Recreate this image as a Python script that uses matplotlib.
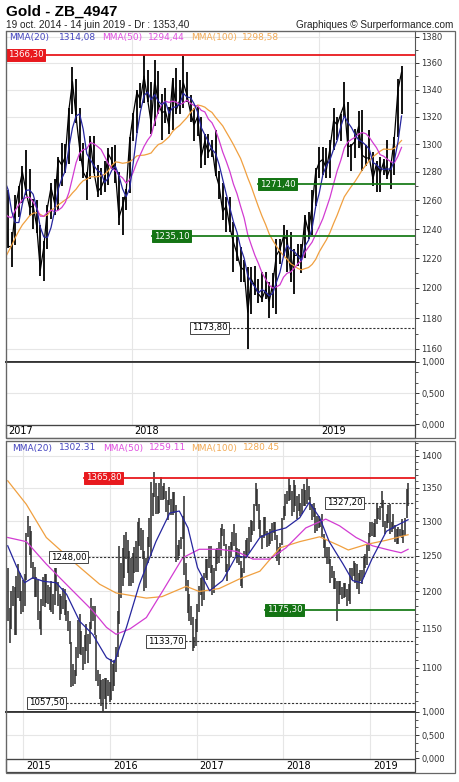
import numpy as np
import pandas as pd
import matplotlib
matplotlib.use("Agg")
import matplotlib.pyplot as plt
from matplotlib.ticker import FixedLocator, FuncFormatter, NullFormatter
from matplotlib.patches import Rectangle
from matplotlib.transforms import blended_transform_factory

plt.rcParams['font.family'] = ['DejaVu Sans']

# ---------------- weekly gold data (week starting Monday) ----------------
first_week = "2014-10-20"

high_2014 = [1255, 1232, 1178, 1200, 1208, 1206, 1222, 1238, 1225, 1200, 1216]
low_2014 = [1226, 1161, 1132, 1150, 1180, 1142, 1142, 1191, 1187, 1170, 1172]
close_2014 = [1231, 1171, 1169, 1185, 1197, 1167, 1192, 1222, 1195, 1195, 1186]

high_2015 = [1224, 1283, 1307, 1293, 1285, 1241, 1234, 1220, 1216, 1173, 1190, 1220, 1224,
             1224, 1209, 1206, 1215, 1197, 1232, 1232, 1213, 1197, 1194, 1205, 1204, 1188,
             1174, 1161, 1133, 1105, 1097, 1126, 1162, 1170, 1147, 1126, 1142, 1157, 1143,
             1159, 1191, 1180, 1180, 1142, 1097, 1093, 1085, 1086, 1088, 1088, 1085, 1082]
low_2015 = [1180, 1216, 1276, 1251, 1232, 1217, 1192, 1193, 1162, 1150, 1142, 1180, 1179,
            1185, 1183, 1175, 1172, 1170, 1182, 1200, 1180, 1162, 1170, 1176, 1168, 1160,
            1147, 1130, 1077, 1078, 1080, 1090, 1112, 1118, 1117, 1098, 1105, 1121, 1106,
            1130, 1150, 1160, 1142, 1084, 1078, 1062, 1053, 1046, 1062, 1050, 1065, 1058]
close_2015 = [1216, 1277, 1293, 1279, 1234, 1227, 1205, 1213, 1164, 1152, 1182, 1199, 1200,
              1204, 1203, 1175, 1179, 1189, 1225, 1204, 1190, 1168, 1179, 1201, 1174, 1163,
              1157, 1131, 1085, 1094, 1094, 1113, 1160, 1134, 1121, 1108, 1139, 1145, 1137,
              1156, 1177, 1163, 1141, 1088, 1081, 1076, 1056, 1086, 1075, 1066, 1076, 1061]

high_2016 = [1111, 1105, 1110, 1127, 1174, 1263, 1240, 1261, 1280, 1284, 1272, 1256, 1246,
             1253, 1262, 1271, 1298, 1305, 1290, 1287, 1257, 1247, 1276, 1304, 1359, 1342,
             1375, 1358, 1337, 1357, 1367, 1353, 1358, 1346, 1331, 1352, 1333, 1343, 1344,
             1324, 1265, 1273, 1277, 1308, 1338, 1239, 1216, 1197, 1180, 1166, 1140, 1163]
low_2016 = [1061, 1071, 1078, 1095, 1114, 1157, 1191, 1208, 1218, 1245, 1225, 1208, 1208,
            1211, 1226, 1227, 1227, 1263, 1258, 1245, 1200, 1205, 1240, 1262, 1250, 1308,
            1336, 1310, 1311, 1312, 1332, 1331, 1333, 1313, 1302, 1324, 1309, 1309, 1312,
            1241, 1244, 1250, 1260, 1274, 1223, 1200, 1171, 1160, 1155, 1122, 1125, 1128]
close_2016 = [1098, 1089, 1097, 1118, 1158, 1239, 1231, 1221, 1271, 1259, 1254, 1221, 1222,
              1243, 1234, 1232, 1290, 1290, 1273, 1253, 1213, 1243, 1275, 1298, 1323, 1340,
              1366, 1328, 1323, 1350, 1335, 1338, 1341, 1321, 1327, 1328, 1310, 1338, 1317,
              1257, 1252, 1267, 1276, 1305, 1225, 1209, 1184, 1178, 1160, 1134, 1133, 1151]

high_2017 = [1183, 1207, 1219, 1220, 1226, 1245, 1245, 1264, 1264, 1236, 1233, 1259, 1261,
             1270, 1290, 1296, 1289, 1267, 1238, 1264, 1270, 1284, 1296, 1282, 1261, 1260,
             1243, 1232, 1257, 1272, 1275, 1291, 1301, 1300, 1326, 1357, 1348, 1326, 1301,
             1280, 1306, 1306, 1285, 1283, 1288, 1297, 1298, 1299, 1280, 1262, 1268, 1305]
low_2017 = [1146, 1172, 1195, 1180, 1188, 1219, 1216, 1232, 1226, 1195, 1198, 1228, 1238,
            1240, 1250, 1278, 1263, 1227, 1214, 1229, 1248, 1258, 1264, 1249, 1240, 1237,
            1208, 1205, 1226, 1247, 1250, 1253, 1270, 1279, 1286, 1322, 1315, 1288, 1276,
            1260, 1275, 1279, 1262, 1264, 1266, 1271, 1282, 1272, 1243, 1236, 1253, 1265]
close_2017 = [1173, 1197, 1205, 1191, 1220, 1234, 1236, 1257, 1234, 1203, 1230, 1245, 1249,
              1254, 1289, 1285, 1268, 1228, 1228, 1254, 1268, 1280, 1266, 1255, 1256, 1242,
              1212, 1228, 1255, 1269, 1258, 1289, 1285, 1291, 1325, 1346, 1320, 1297, 1280,
              1275, 1303, 1280, 1266, 1269, 1275, 1293, 1288, 1280, 1248, 1256, 1266, 1303]

high_2018 = [1323, 1340, 1345, 1366, 1355, 1346, 1362, 1354, 1337, 1341, 1327, 1349, 1356,
             1347, 1365, 1353, 1336, 1326, 1327, 1320, 1307, 1307, 1303, 1310, 1281, 1272,
             1262, 1262, 1245, 1235, 1228, 1219, 1214, 1214, 1215, 1206, 1211, 1211, 1204,
             1210, 1233, 1233, 1243, 1239, 1238, 1226, 1230, 1230, 1250, 1252, 1267, 1283, 1298]
low_2018 = [1302, 1308, 1326, 1330, 1331, 1307, 1313, 1322, 1303, 1315, 1307, 1310, 1322,
            1322, 1326, 1331, 1316, 1302, 1306, 1283, 1285, 1290, 1291, 1277, 1261, 1246,
            1238, 1238, 1211, 1218, 1204, 1204, 1160, 1183, 1195, 1190, 1191, 1193, 1180,
            1187, 1183, 1216, 1221, 1211, 1204, 1196, 1215, 1210, 1220, 1233, 1236, 1256, 1276]
close_2018 = [1322, 1338, 1332, 1350, 1333, 1315, 1347, 1330, 1323, 1324, 1313, 1347, 1325,
              1332, 1345, 1336, 1323, 1314, 1320, 1291, 1302, 1294, 1298, 1279, 1270, 1252,
              1256, 1241, 1231, 1223, 1214, 1212, 1184, 1206, 1201, 1196, 1193, 1199, 1191,
              1203, 1222, 1226, 1235, 1233, 1209, 1222, 1222, 1221, 1248, 1238, 1256, 1280, 1287]

high_2019 = [1298, 1297, 1303, 1326, 1320, 1322, 1346, 1331, 1300, 1311, 1324, 1325,
             1299, 1310, 1294, 1288, 1291, 1289, 1303, 1287, 1305, 1348, 1358]
low_2019 = [1278, 1276, 1276, 1296, 1303, 1302, 1320, 1291, 1281, 1290, 1297, 1281,
            1284, 1288, 1270, 1266, 1266, 1278, 1275, 1268, 1278, 1305, 1322]
close_2019 = [1289, 1282, 1297, 1317, 1314, 1322, 1329, 1298, 1299, 1302, 1313, 1292,
              1290, 1290, 1275, 1286, 1279, 1287, 1277, 1284, 1305, 1340, 1353]

high = high_2014 + high_2015 + high_2016 + high_2017 + high_2018 + high_2019
low = low_2014 + low_2015 + low_2016 + low_2017 + low_2018 + low_2019
close = close_2014 + close_2015 + close_2016 + close_2017 + close_2018 + close_2019

# weekly moving averages shown on the long-term chart
ma20w_t = [2014.82, 2014.92, 2015.015, 2015.11, 2015.23, 2015.38, 2015.50, 2015.65, 2015.80,
           2015.96, 2016.05, 2016.19, 2016.34, 2016.53, 2016.69, 2016.80, 2016.90, 2017.01,
           2017.15, 2017.30, 2017.46, 2017.57, 2017.73, 2017.88, 2018.03, 2018.19, 2018.30,
           2018.42, 2018.53, 2018.69, 2018.80, 2018.90, 2019.03, 2019.19, 2019.30, 2019.44]
ma20w_v = [1264, 1235, 1212, 1219, 1214, 1212, 1196, 1160, 1143,
           1113, 1107, 1152, 1210, 1270, 1312, 1315, 1290, 1233,
           1201, 1215, 1250, 1247, 1276, 1285, 1290, 1305, 1328,
           1305, 1270, 1238, 1215, 1212, 1247, 1285, 1293, 1302]
ma50w_t = [2014.82, 2015.035, 2015.265, 2015.42, 2015.57, 2015.80, 2015.96, 2016.07, 2016.23,
           2016.42, 2016.61, 2016.84, 2017.03, 2017.26, 2017.46, 2017.65, 2017.84, 2018.03,
           2018.26, 2018.49, 2018.65, 2018.84, 2019.03, 2019.22, 2019.36, 2019.44]
ma50w_v = [1276, 1270, 1238, 1219, 1201, 1174, 1152, 1143, 1150,
           1165, 1201, 1247, 1259, 1259, 1256, 1245, 1245, 1261,
           1290, 1303, 1293, 1276, 1264, 1258, 1254, 1259]
ma100w_t = [2014.82, 2015.035, 2015.265, 2015.57, 2015.88, 2016.07, 2016.42, 2016.60, 2016.88,
            2017.03, 2017.26, 2017.49, 2017.73, 2017.96, 2018.19, 2018.42, 2018.65, 2018.75,
            2018.96, 2019.19, 2019.44]
ma100w_v = [1361, 1325, 1276, 1242, 1210, 1198, 1191, 1193, 1207,
            1200, 1204, 1217, 1228, 1261, 1270, 1277, 1264, 1258,
            1266, 1272, 1280]

# ---------------- derived positions ----------------
dates = pd.date_range(first_week, periods=len(close), freq="W-MON") + pd.Timedelta(days=2)
t = np.asarray(dates.year + (dates.dayofyear - 1) / 365.0, dtype=float)
hi = np.array(high, float)
lo = np.array(low, float)
cl = pd.Series(close, dtype=float)
ma_short = cl.rolling(4).mean().values
ma_mid = cl.rolling(10).mean().values
ma_long = cl.rolling(20).mean().values

BLUE, MAG, ORA = "#26269e", "#d23cd2", "#f0a040"
LBLUE, LMAG, LORA = "#4646c0", "#e050e0", "#f2aa55"
GRID = "#e6e6e6"

W, H = 460, 782
fig = plt.figure(figsize=(W / 100, H / 100), dpi=100)


def fbox(x0, y0, x1, y1):
    return [x0 / W, 1 - y1 / H, (x1 - x0) / W, (y1 - y0) / H]


def fmt_fr(v, nd=2):
    return f"{v:.{nd}f}".replace(".", ",")


def setup_price(ax, ylim, majors, minors, years):
    ax.set_yscale("log")
    ax.set_ylim(*ylim)
    ax.yaxis.set_major_locator(FixedLocator(majors))
    ax.yaxis.set_minor_locator(FixedLocator(minors))
    ax.yaxis.set_major_formatter(FuncFormatter(lambda v, p: f"{v:.0f}"))
    ax.yaxis.set_minor_formatter(NullFormatter())
    ax.yaxis.tick_right()
    ax.tick_params(axis="y", which="major", length=3, width=0.7, labelsize=6, pad=1.5,
                   colors="#333333")
    ax.tick_params(axis="y", which="minor", length=2, width=0.6, colors="#333333")
    ax.set_xticks([])
    ax.set_axisbelow(True)
    ax.grid(axis="y", which="major", color=GRID, lw=0.8)
    for yr in years:
        ax.axvline(yr, color=GRID, lw=0.8, zorder=0)
    for s in ax.spines.values():
        s.set_color("#555555")
        s.set_linewidth(0.8)
    ax.spines["bottom"].set_color("#333333")
    ax.spines["bottom"].set_linewidth(1.3)


def setup_volume(ax, xlim, years):
    ax.set_xlim(*xlim)
    ax.set_ylim(-0.016, 1.0)
    ax.yaxis.tick_right()
    ax.set_yticks([0, 0.5, 1.0])
    ax.set_yticklabels(["0,000", "0,500", "1,000"])
    ax.set_yticks(np.arange(0, 1.01, 1 / 6), minor=True)
    ax.tick_params(axis="y", which="major", length=3, width=0.7, labelsize=6, pad=1.5,
                   colors="#333333")
    ax.tick_params(axis="y", which="minor", length=2, width=0.6, colors="#333333")
    ax.set_xticks([])
    ax.axhline(0.5, color=GRID, lw=0.8, zorder=0)
    for yr in years:
        ax.axvline(yr, color=GRID, lw=0.8, zorder=0)
    for s in ax.spines.values():
        s.set_color("#555555")
        s.set_linewidth(0.8)
    ax.spines["top"].set_color("#333333")
    ax.spines["top"].set_linewidth(1.3)


def level(ax, value, x_px, style):
    xf = (x_px - 6) / 409.0
    tr = blended_transform_factory(ax.transAxes, ax.transData)
    if style == "red":
        ax.axhline(value, xmin=xf, xmax=1, color="#e8191e", lw=1.3, zorder=4)
        fc, ec, tc = "#e8191e", "#e8191e", "white"
    elif style == "green":
        ax.axhline(value, xmin=xf, xmax=1, color="#1b7d1b", lw=1.3, zorder=4)
        fc, ec, tc = "#147414", "#147414", "white"
    else:
        ax.axhline(value, xmin=xf, xmax=1, color="#333333", lw=0.8, ls=(0, (2, 1.5)), zorder=4)
        fc, ec, tc = "white", "#444444", "black"
    ax.text(xf + 1.8 / 409, value, fmt_fr(value), transform=tr, fontsize=6.2, color=tc,
            ha="left", va="center", zorder=6,
            bbox=dict(boxstyle="square,pad=0.18", fc=fc, ec=ec, lw=0.7))


# ---------------- titles ----------------
fig.text(6 / W, 1 - 11.5 / H, "Gold - ZB_4947", fontsize=11, fontweight="bold",
         family="Liberation Sans", va="center", ha="left")
fig.text(6 / W, 1 - 24.5 / H, "19 oct. 2014 - 14 juin 2019 - Dr : 1353,40", fontsize=7.2,
         family="Liberation Sans", va="center", ha="left", color="#222222")
fig.text(453 / W, 1 - 24.5 / H, "Graphiques \u00a9 Surperformance.com", fontsize=7.2,
         family="Liberation Sans", va="center", ha="right", color="#222222")

# ================= TOP PANEL (daily view) =================
xlim_top = (2017.323, 2019.516)
years_top = [2018, 2019]
ax1 = fig.add_axes(fbox(6, 31, 415, 362))
ax1.set_xlim(*xlim_top)
setup_price(ax1, (1151.6, 1384.4), list(range(1160, 1381, 20)), list(range(1170, 1381, 20)),
            years_top)
m = t > xlim_top[0] - 0.2
ax1.vlines(t[m], lo[m], hi[m], color="black", lw=1.3, zorder=2)
ax1.plot(t[m], cl.values[m], color="black", lw=0.9, zorder=2)
ax1.plot(t[m], ma_long[m], color=ORA, lw=0.9, zorder=3)
ax1.plot(t[m], ma_mid[m], color=MAG, lw=0.9, zorder=3)
ax1.plot(t[m], ma_short[m], color=BLUE, lw=0.9, zorder=3)
level(ax1, 1366.30, 6, "red")
level(ax1, 1271.40, 258, "green")
level(ax1, 1235.10, 152, "green")
level(ax1, 1173.80, 190, "dash")

leg_y = 1 - 37.5 / H
for x, s, c in [(9, "MMA(20)", LBLUE), (59, "1314,08", LBLUE), (102, "MMA(50)", LMAG),
                (148, "1294,44", LMAG), (191, "MMA(100)", LORA), (242, "1298,58", LORA)]:
    fig.text(x / W, leg_y, s, fontsize=6.5, color=c, va="center", ha="left")

vol1 = fig.add_axes(fbox(6, 362, 415, 425))
setup_volume(vol1, xlim_top, years_top)

fig.add_artist(Rectangle((6 / W, 1 - 438 / H), 409 / W, 13 / H, transform=fig.transFigure,
                         fill=False, ec="#444444", lw=0.9))
fig.add_artist(Rectangle((6 / W, 1 - 438 / H), 449 / W, 407 / H, transform=fig.transFigure,
                         fill=False, ec="#666666", lw=0.9))
yl = 1 - 431.5 / H
fig.text(8 / W, yl, "2017", fontsize=7, va="center", ha="left")
for yr in years_top:
    xpx = 6 + (yr - xlim_top[0]) / (xlim_top[1] - xlim_top[0]) * 409
    fig.text((xpx + 2) / W, yl, str(yr), fontsize=7, va="center", ha="left")

# ================= BOTTOM PANEL (weekly view) =================
xlim_bot = (2014.80, 2019.52)
years_bot = [2015, 2016, 2017, 2018, 2019]
ax2 = fig.add_axes(fbox(6, 441, 415, 712))
ax2.set_xlim(*xlim_bot)
setup_price(ax2, (1046.3, 1424.0), list(range(1100, 1401, 50)),
            [v for v in range(1050, 1421, 10) if v % 50 != 0], years_bot)
ax2.vlines(t, lo, hi, color="#2a2a2a", lw=1.1, zorder=2)
ax2.plot(ma100w_t, ma100w_v, color=ORA, lw=0.9, zorder=3)
ax2.plot(ma50w_t, ma50w_v, color=MAG, lw=0.9, zorder=3)
ax2.plot(ma20w_t, ma20w_v, color=BLUE, lw=0.9, zorder=3)
level(ax2, 1365.80, 84, "red")
level(ax2, 1248.00, 49, "dash")
level(ax2, 1327.20, 325, "dash")
level(ax2, 1175.30, 265, "green")
level(ax2, 1133.70, 146, "dash")
level(ax2, 1057.50, 27, "dash")

leg_y2 = 1 - 448 / H
for x, s, c in [(12, "MMA(20)", LBLUE), (59, "1302.31", LBLUE), (103, "MMA(50)", LMAG),
                (149, "1259.11", LMAG), (191, "MMA(100)", LORA), (243, "1280.45", LORA)]:
    fig.text(x / W, leg_y2, s, fontsize=6.5, color=c, va="center", ha="left")

vol2 = fig.add_axes(fbox(6, 712, 415, 759))
setup_volume(vol2, xlim_bot, years_bot)

fig.add_artist(Rectangle((6 / W, 1 - 772 / H), 409 / W, 13 / H, transform=fig.transFigure,
                         fill=False, ec="#444444", lw=0.9))
fig.add_artist(Rectangle((6 / W, 1 - 773 / H), 449 / W, 332 / H, transform=fig.transFigure,
                         fill=False, ec="#666666", lw=0.9))
yl2 = 1 - 766 / H
for yr in years_bot:
    xpx = 6 + (yr - xlim_bot[0]) / (xlim_bot[1] - xlim_bot[0]) * 409
    fig.text((xpx + 3) / W, yl2, str(yr), fontsize=7, va="center", ha="left")

fig.savefig("out.png", dpi=100)
